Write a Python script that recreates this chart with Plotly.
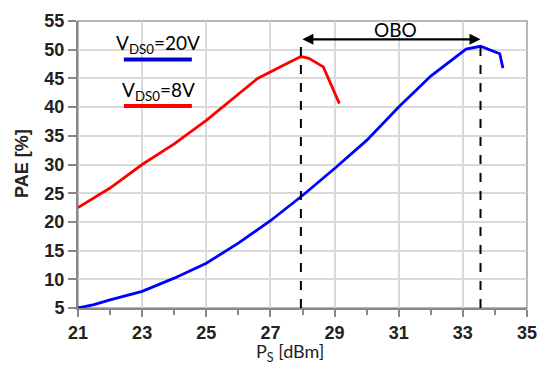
import plotly.graph_objects as go

# Data
ps_8v = [21.0, 22.0, 23.0, 24.0, 25.0, 26.0, 26.6, 27.3, 27.95, 28.2, 28.65, 29.15]
pae_8v = [22.5, 25.9, 30.0, 33.6, 37.7, 42.3, 45.0, 47.0, 48.8, 48.5, 47.0, 40.6]

ps_20v = [21.0, 21.5, 22.0, 23.0, 24.0, 25.0, 26.0, 27.0, 28.0, 29.0, 30.0, 31.0, 32.0, 32.6, 33.1, 33.55, 34.15, 34.25]
pae_20v = [5.0, 5.6, 6.4, 7.9, 10.2, 12.8, 16.3, 20.2, 24.6, 29.3, 34.2, 40.0, 45.4, 48.0, 50.1, 50.6, 49.3, 46.8]

obo_x = [27.95, 33.55]
obo_y = 51.8

xticks = [21, 23, 25, 27, 29, 31, 33, 35]
yticks = [5, 10, 15, 20, 25, 30, 35, 40, 45, 50, 55]

fig = go.Figure()
fig.add_trace(go.Scatter(x=ps_8v, y=pae_8v, mode="lines", line=dict(color="#ff0000", width=2.8), showlegend=False))
fig.add_trace(go.Scatter(x=ps_20v, y=pae_20v, mode="lines", line=dict(color="#0000ff", width=2.8), showlegend=False))

# dashed vertical lines
for xv in obo_x:
    fig.add_shape(type="line", x0=xv, x1=xv, y0=5, y1=obo_y, line=dict(color="black", width=2, dash="dash"))

# double arrow
fig.add_annotation(x=obo_x[1], y=obo_y, ax=obo_x[0], ay=obo_y, xref="x", yref="y", axref="x", ayref="y",
                   showarrow=True, arrowhead=2, arrowside="end+start", arrowwidth=2.2, arrowsize=1, arrowcolor="black", text="")
fig.add_annotation(x=30.9, y=53.6, text="OBO", showarrow=False, font=dict(family="Lato", size=19, color="black"))

# legend-like labels
fig.add_annotation(x=23.5, y=51.0, text="V<sub>DS0</sub>=20V", showarrow=False,
                   font=dict(family="Lato", size=19, color="black"))
fig.add_shape(type="line", x0=22.43, x1=24.55, y0=48.3, y1=48.3, line=dict(color="#0000cc", width=4))
fig.add_annotation(x=23.5, y=42.8, text="V<sub>DS0</sub>=8V", showarrow=False,
                   font=dict(family="Lato", size=19, color="black"))
fig.add_shape(type="line", x0=22.43, x1=24.55, y0=40.2, y1=40.2, line=dict(color="#ff0000", width=4))

# axis titles
fig.add_annotation(xref="paper", yref="paper", x=0.472, y=-0.156, yanchor="middle", showarrow=False,
                   text="P<sub>S</sub> [dBm]", font=dict(family="Lato", size=18, color="#222"))
fig.add_annotation(xref="paper", yref="paper", x=-0.125, xanchor="center", y=0.505, textangle=-90, showarrow=False,
                   text="<b>PAE [%]</b>", font=dict(family="Liberation Sans", size=18, color="#222"))

tickfont = dict(family="Liberation Sans", size=18, color="#222")
fig.update_xaxes(range=[21, 35], tickvals=xticks, ticktext=[f"<b>{v}</b>" for v in xticks], tickfont=tickfont,
                 showgrid=True, gridcolor="#d9d9d9", gridwidth=1.5,
                 showline=True, linecolor="#888888", linewidth=2, ticks="outside", ticklen=7, tickwidth=1.5,
                 tickcolor="#888888", minor=dict(dtick=1, ticks="outside", ticklen=5, tickwidth=1.5, tickcolor="#888888", showgrid=False),
                 zeroline=False, automargin=False)
fig.update_yaxes(range=[5, 55], tickvals=yticks, ticktext=[f"<b>{v}</b>" for v in yticks], tickfont=tickfont,
                 showgrid=True, gridcolor="#d9d9d9", gridwidth=1.5,
                 showline=True, linecolor="#888888", linewidth=2, ticks="outside", ticklen=8, tickwidth=1.5, tickcolor="#888888",
                 zeroline=False, automargin=False)
# top & right border
fig.add_shape(type="rect", xref="paper", yref="paper", x0=0, x1=1, y0=0, y1=1, line=dict(color="#a0a0a0", width=1.5), layer="below")

fig.update_layout(width=539, height=365, margin=dict(l=78, r=12, t=21, b=57),
                  plot_bgcolor="white", paper_bgcolor="white")
fig.write_html("out.html", config={"displayModeBar": False},
               post_script="document.body.style.margin='0';document.body.style.overflow='hidden';")
